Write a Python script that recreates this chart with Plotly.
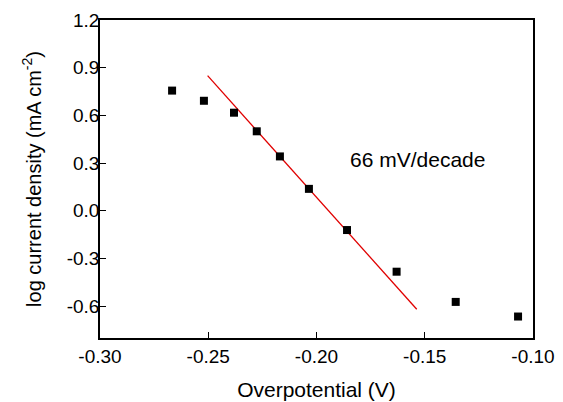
import plotly.graph_objects as go

# Data
overpotential = [-0.2667, -0.2520, -0.2381, -0.2276, -0.2169, -0.2035, -0.1859, -0.1630, -0.1357, -0.1069]
log_j = [0.756, 0.692, 0.617, 0.500, 0.342, 0.138, -0.121, -0.383, -0.573, -0.665]

fit_x = [-0.2503, -0.1537]
fit_y = [0.850, -0.619]

x_ticks = [-0.30, -0.25, -0.20, -0.15, -0.10]
y_ticks = [-0.6, -0.3, 0.0, 0.3, 0.6, 0.9, 1.2]

FONT = "Liberation Sans, Arial, sans-serif"

fig = go.Figure()
fig.add_trace(go.Scatter(x=fit_x, y=fit_y, mode="lines",
                         line=dict(color="#e00000", width=1.3), showlegend=False))
fig.add_trace(go.Scatter(x=overpotential, y=log_j, mode="markers",
                         marker=dict(symbol="square", size=8, color="black"),
                         showlegend=False))

fig.add_annotation(x=-0.1535, y=0.325, text="66 mV/decade", showarrow=False,
                   font=dict(family=FONT, size=21, color="black"))

fig.update_layout(
    width=563, height=402,
    margin=dict(l=92, r=38, t=12, b=72),
    plot_bgcolor="white", paper_bgcolor="white",
    font=dict(family=FONT, size=19, color="black"),
)
fig.update_xaxes(
    range=[-0.30, -0.10], tickvals=x_ticks, ticktext=[f"{v:.2f}" for v in x_ticks],
    ticks="inside", ticklen=6, tickwidth=1.2, tickcolor="black",
    tickfont=dict(size=19),
    showline=True, linecolor="black", linewidth=1.5, mirror=True,
    showgrid=False, zeroline=False, automargin=False,
    title=dict(text="Overpotential (V)", font=dict(size=21), standoff=17),
)
fig.update_yaxes(
    range=[-0.8, 1.2], tickvals=y_ticks, ticktext=[f"{v:.1f}" for v in y_ticks],
    ticks="inside", ticklen=6, tickwidth=1.2, tickcolor="black",
    tickfont=dict(size=19), ticklabelstandoff=-5,
    showline=True, linecolor="black", linewidth=1.5, mirror=True,
    showgrid=False, zeroline=False, automargin=False,
    title=dict(text="log current density (mA cm<sup>-2</sup>)", font=dict(size=20), standoff=20),
)

fig.write_html("out.html")
